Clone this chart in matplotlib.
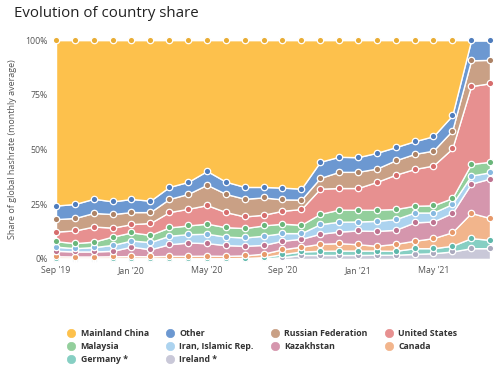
import matplotlib
matplotlib.use("Agg")
import matplotlib.pyplot as plt
from matplotlib.lines import Line2D
import numpy as np

plt.rcParams['font.family'] = ['Open Sans', 'DejaVu Sans']

months = ["Sep '19", "Oct '19", "Nov '19", "Dec '19", "Jan '20", "Feb '20", "Mar '20", "Apr '20",
          "May '20", "Jun '20", "Jul '20", "Aug '20", "Sep '20", "Oct '20", "Nov '20", "Dec '20",
          "Jan '21", "Feb '21", "Mar '21", "Apr '21", "May '21", "Jun '21", "Jul '21", "Aug '21"]
tick_labels = ["Sep '19", "Jan '20", "May '20", "Sep '20", "Jan '21", "May '21"]

# shares in % (stacked bottom -> top)
ireland    = [0.1, 0.1, 0.1, 0.1, 0.1, 0.1, 0.1, 0.1, 0.1, 0.1, 0.1, 0.2, 0.8, 1.8, 1.8, 1.8, 1.8, 1.9, 1.9, 2.3, 2.6, 3.4, 4.9, 4.9]
germany    = [0.2, 0.2, 0.2, 0.2, 0.2, 0.2, 0.2, 0.2, 0.2, 0.2, 0.3, 0.6, 1.4, 1.6, 1.9, 2.0, 2.0, 1.9, 1.8, 2.6, 2.3, 2.6, 4.6, 3.8]
canada     = [0.9, 0.8, 0.8, 0.9, 1.0, 0.9, 1.1, 1.1, 1.2, 1.1, 1.2, 1.6, 2.2, 2.2, 3.2, 3.4, 2.9, 2.2, 3.2, 3.4, 4.6, 6.2, 11.5, 10.0]
kazakhstan = [2.5, 2.3, 2.3, 2.5, 4.3, 3.2, 5.3, 6.1, 5.7, 4.9, 4.4, 4.0, 3.9, 3.6, 4.6, 5.3, 6.3, 6.8, 6.4, 8.4, 7.6, 8.8, 13.4, 18.0]
iran       = [1.9, 1.5, 2.0, 2.7, 2.8, 3.3, 3.9, 3.8, 4.3, 3.9, 3.8, 4.2, 3.5, 2.6, 4.4, 4.5, 4.1, 4.6, 4.9, 4.5, 4.1, 4.1, 3.7, 2.9]
malaysia   = [2.5, 2.3, 2.5, 3.8, 3.7, 3.3, 3.8, 4.0, 4.6, 4.3, 4.3, 4.7, 4.3, 3.8, 4.7, 5.5, 5.4, 5.1, 4.6, 3.1, 3.3, 2.7, 5.3, 4.8]
usa        = [4.4, 5.8, 6.9, 4.1, 3.8, 5.4, 7.0, 7.6, 8.5, 6.9, 5.3, 4.9, 5.9, 7.2, 11.5, 9.9, 9.9, 12.7, 15.7, 16.8, 18.2, 22.7, 35.6, 35.9]
russia     = [5.7, 5.7, 6.2, 6.2, 5.5, 5.0, 6.0, 6.8, 9.3, 8.3, 8.1, 7.9, 5.2, 4.3, 4.9, 7.4, 7.4, 6.1, 6.6, 6.9, 6.8, 8.2, 11.8, 10.7]
other      = [6.2, 6.4, 6.5, 5.8, 6.0, 5.2, 5.5, 5.5, 6.3, 5.6, 5.4, 4.8, 5.4, 5.0, 7.4, 6.9, 6.7, 7.2, 6.0, 5.8, 6.6, 6.9, 9.2, 9.0]
china      = [75.6, 74.9, 72.5, 73.7, 72.6, 73.4, 67.1, 64.8, 59.8, 64.7, 67.1, 67.1, 67.4, 67.9, 55.6, 53.3, 53.5, 51.5, 48.9, 46.2, 43.9, 34.4, 0.0, 0.0]

names = ["Ireland *", "Germany *", "Canada", "Kazakhstan", "Iran, Islamic Rep.", "Malaysia",
         "United States", "Russian Federation", "Other", "Mainland China"]
series = [ireland, germany, canada, kazakhstan, iran, malaysia, usa, russia, other, china]
fills = ["#c9c8d8", "#86cfc3", "#f2b58c", "#d596ad", "#acd3ef", "#93cf9c",
         "#e79090", "#c9a085", "#6c98d1", "#fdc14c"]
marks = ["#aaa9bd", "#5fb8ab", "#e7996a", "#be7390", "#86b9e0", "#6ab67a",
         "#d66d6d", "#ad8366", "#4f7dbd", "#e9ad35"]

fig = plt.figure(figsize=(5.0, 3.72), dpi=100)
ax = fig.add_axes([0.112, 0.304, 0.868, 0.588])

x = np.arange(len(months))
data = np.array(series, dtype=float)
ax.stackplot(x, data, colors=fills, edgecolor='white', linewidth=1.0, zorder=2)
cum = np.cumsum(data, axis=0)
for i in range(len(series)):
    mask = data[i] > 0 if i == len(series) - 1 else np.ones(len(x), bool)
    ax.plot(x[mask], cum[i][mask], linestyle='none', marker='o', markersize=4.6,
            markerfacecolor=marks[i], markeredgecolor='white', markeredgewidth=0.9,
            zorder=4, clip_on=False)

ax.set_xlim(0, 23)
ax.set_ylim(0, 100)
ax.set_xticks([months.index(t) for t in tick_labels])
ax.set_xticklabels(tick_labels)
ax.set_yticks([0, 25, 50, 75, 100])
ax.set_yticklabels(["0%", "25%", "50%", "75%", "100%"])
ax.tick_params(axis='both', length=0, labelsize=6.3, colors='#555555')
ax.tick_params(axis='x', pad=5)
ax.tick_params(axis='y', pad=6)
for s in ax.spines.values():
    s.set_visible(False)
ax.set_ylabel("Share of global hashrate (monthly average)", fontsize=6.5, color='#555555', labelpad=6)

fig.text(0.028, 0.965, "Evolution of country share", fontsize=10.8, color='#222222', va='center', ha='left')

order = [9, 5, 1, 8, 4, 0, 7, 3, 6, 2]
handles = [Line2D([0], [0], linestyle='none', marker='o', markersize=6.0,
                  markerfacecolor=fills[i], markeredgecolor=fills[i], markeredgewidth=0.5) for i in order]
labels = [names[i] for i in order]
leg = fig.legend(handles, labels, ncol=4, loc='center', bbox_to_anchor=(0.525, 0.068),
                 frameon=False, fontsize=6.3, handlelength=0.8, handletextpad=0.7,
                 columnspacing=2.0, labelspacing=0.45)
for t in leg.get_texts():
    t.set_fontweight('bold')
    t.set_color('#333333')

fig.savefig("out.png", dpi=100, facecolor='white')
